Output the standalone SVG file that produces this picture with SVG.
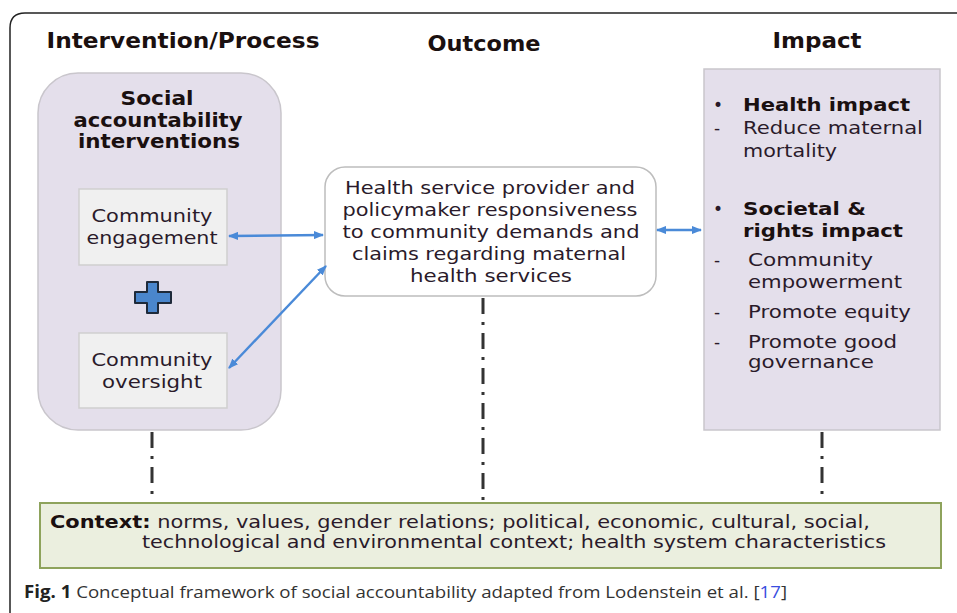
<svg xmlns="http://www.w3.org/2000/svg" width="957" height="613" viewBox="0 0 957 613">
  <defs>
    <style>
      .t { font-family: "DejaVu Sans", Verdana, sans-serif; fill: #2a1a2a; }
      .h { font-family: "DejaVu Sans", Verdana, sans-serif; font-weight: bold; fill: #1a1010; }
      .cap { font-family: "Open Sans", "Noto Sans", sans-serif; fill: #333; }
      .lav { fill: #e4dfeb; stroke: #c9c6cc; stroke-width: 1.5; }
      .sub { fill: #f0f0f0; stroke: #cfcfcf; stroke-width: 1.5; }
      .arr { stroke: #4a8ad8; stroke-width: 2.4; fill: none; marker-start: url(#ah); marker-end: url(#ah); }
      .dd { stroke: #333; stroke-width: 3; stroke-dasharray: 16 8 3 8; fill: none; }
    </style>
    <marker id="ah" viewBox="0 0 10 10" refX="9" refY="5" markerWidth="4.2" markerHeight="3.4" orient="auto-start-reverse" markerUnits="strokeWidth" preserveAspectRatio="none">
      <path d="M0,0 L10,5 L0,10 z" fill="#4a8ad8"/>
    </marker>
  </defs>

  <rect width="957" height="613" fill="#ffffff"/>

  <!-- outer frame -->
  <path d="M10,615 L10,28 Q10,13 25,13 L960,13" fill="none" stroke="#222" stroke-width="1.5"/>

  <!-- column headers -->
  <text class="h" x="183" y="48" font-size="21" text-anchor="middle" textLength="273" lengthAdjust="spacingAndGlyphs">Intervention/Process</text>
  <text class="h" x="484" y="51" font-size="21" text-anchor="middle" textLength="113" lengthAdjust="spacingAndGlyphs">Outcome</text>
  <text class="h" x="817" y="48" font-size="21" text-anchor="middle" textLength="89" lengthAdjust="spacingAndGlyphs">Impact</text>

  <!-- intervention group -->
  <g id="interventions">
    <rect class="lav" x="38" y="73" width="243" height="357" rx="40"/>
    <text class="h" font-size="19" text-anchor="middle" x="157" y="105" textLength="73" lengthAdjust="spacingAndGlyphs">Social</text>
    <text class="h" font-size="19" text-anchor="middle" x="158" y="127" textLength="169" lengthAdjust="spacingAndGlyphs">accountability</text>
    <text class="h" font-size="19" text-anchor="middle" x="159" y="148" textLength="162" lengthAdjust="spacingAndGlyphs">interventions</text>
  </g>

  <g id="engagement">
    <rect class="sub" x="79" y="189" width="148" height="76"/>
    <text class="t" font-size="18.5" text-anchor="middle" x="152" y="222" textLength="121" lengthAdjust="spacingAndGlyphs">Community</text>
    <text class="t" font-size="18.5" text-anchor="middle" x="152" y="244" textLength="131" lengthAdjust="spacingAndGlyphs">engagement</text>
  </g>

  <g id="plus">
    <path d="M147,282 h11 v10 h13 v11 h-13 v10 h-11 v-10 h-12 v-11 h12 z" fill="#4a86cc" stroke="#1e2a3a" stroke-width="2" stroke-linejoin="round"/>
  </g>

  <g id="oversight">
    <rect class="sub" x="79" y="333" width="148" height="75"/>
    <text class="t" font-size="18.5" text-anchor="middle" x="152" y="366" textLength="121" lengthAdjust="spacingAndGlyphs">Community</text>
    <text class="t" font-size="18.5" text-anchor="middle" x="152" y="388" textLength="100" lengthAdjust="spacingAndGlyphs">oversight</text>
  </g>

  <!-- outcome -->
  <g id="outcome">
    <rect x="325" y="167" width="331" height="129" rx="20" fill="#ffffff" stroke="#bdbdbd" stroke-width="1.5"/>
    <text class="t" font-size="17" text-anchor="middle" x="490" y="194" textLength="290" lengthAdjust="spacingAndGlyphs">Health service provider and</text>
    <text class="t" font-size="17" text-anchor="middle" x="490" y="216" textLength="295" lengthAdjust="spacingAndGlyphs">policymaker responsiveness</text>
    <text class="t" font-size="17" text-anchor="middle" x="491" y="238" textLength="297" lengthAdjust="spacingAndGlyphs">to community demands and</text>
    <text class="t" font-size="17" text-anchor="middle" x="489" y="260" textLength="274" lengthAdjust="spacingAndGlyphs">claims regarding maternal</text>
    <text class="t" font-size="17" text-anchor="middle" x="491" y="282" textLength="162" lengthAdjust="spacingAndGlyphs">health services</text>
  </g>

  <!-- impact -->
  <g id="impact">
    <rect class="lav" x="704" y="69" width="236" height="361"/>
    <text class="t" font-size="17" x="713" y="111">•</text>
    <text class="h" font-size="18" x="743" y="111" textLength="167" lengthAdjust="spacingAndGlyphs">Health impact</text>
    <text class="t" font-size="17" x="714" y="134">-</text>
    <text class="t" font-size="18" x="743" y="134" textLength="180" lengthAdjust="spacingAndGlyphs">Reduce maternal</text>
    <text class="t" font-size="18" x="743" y="157" textLength="94" lengthAdjust="spacingAndGlyphs">mortality</text>

    <text class="t" font-size="17" x="713" y="215">•</text>
    <text class="h" font-size="18" x="743" y="215" textLength="123" lengthAdjust="spacingAndGlyphs">Societal &amp;</text>
    <text class="h" font-size="18" x="743" y="237" textLength="160" lengthAdjust="spacingAndGlyphs">rights impact</text>
    <text class="t" font-size="17" x="714" y="266">-</text>
    <text class="t" font-size="18.5" x="748" y="266" textLength="125" lengthAdjust="spacingAndGlyphs">Community</text>
    <text class="t" font-size="18.5" x="748" y="288" textLength="154" lengthAdjust="spacingAndGlyphs">empowerment</text>
    <text class="t" font-size="17" x="714" y="318">-</text>
    <text class="t" font-size="18.5" x="748" y="318" textLength="163" lengthAdjust="spacingAndGlyphs">Promote equity</text>
    <text class="t" font-size="17" x="714" y="348">-</text>
    <text class="t" font-size="18.5" x="748" y="348" textLength="149" lengthAdjust="spacingAndGlyphs">Promote good</text>
    <text class="t" font-size="18.5" x="748" y="368" textLength="126" lengthAdjust="spacingAndGlyphs">governance</text>
  </g>

  <!-- context -->
  <g id="context">
    <rect x="40" y="503" width="901" height="65" fill="#ebefdf" stroke="#8ea35c" stroke-width="2"/>
    <text class="t" font-size="17" x="50" y="528" textLength="820" lengthAdjust="spacingAndGlyphs"><tspan class="h">Context:</tspan> norms, values, gender relations; political, economic, cultural, social,</text>
    <text class="t" font-size="17" x="142" y="548" textLength="744" lengthAdjust="spacingAndGlyphs">technological and environmental context; health system characteristics</text>
  </g>

  <!-- connectors -->
  <g id="connectors">
    <line class="arr" x1="229" y1="236" x2="323" y2="235"/>
    <line class="arr" x1="229" y1="368" x2="326" y2="266"/>
    <line class="arr" x1="657" y1="230" x2="701" y2="230"/>
    <line class="dd" x1="152" y1="432" x2="152" y2="500"/>
    <line class="dd" x1="483" y1="298" x2="483" y2="500"/>
    <line class="dd" x1="822" y1="432" x2="822" y2="500"/>
  </g>

  <!-- caption -->
  <text class="cap" font-size="17" x="24" y="598" textLength="763" lengthAdjust="spacingAndGlyphs"><tspan font-weight="bold" fill="#222">Fig. 1</tspan> Conceptual framework of social accountability adapted from Lodenstein et al. [<tspan fill="#3a4ee0">17</tspan>]</text>
</svg>
